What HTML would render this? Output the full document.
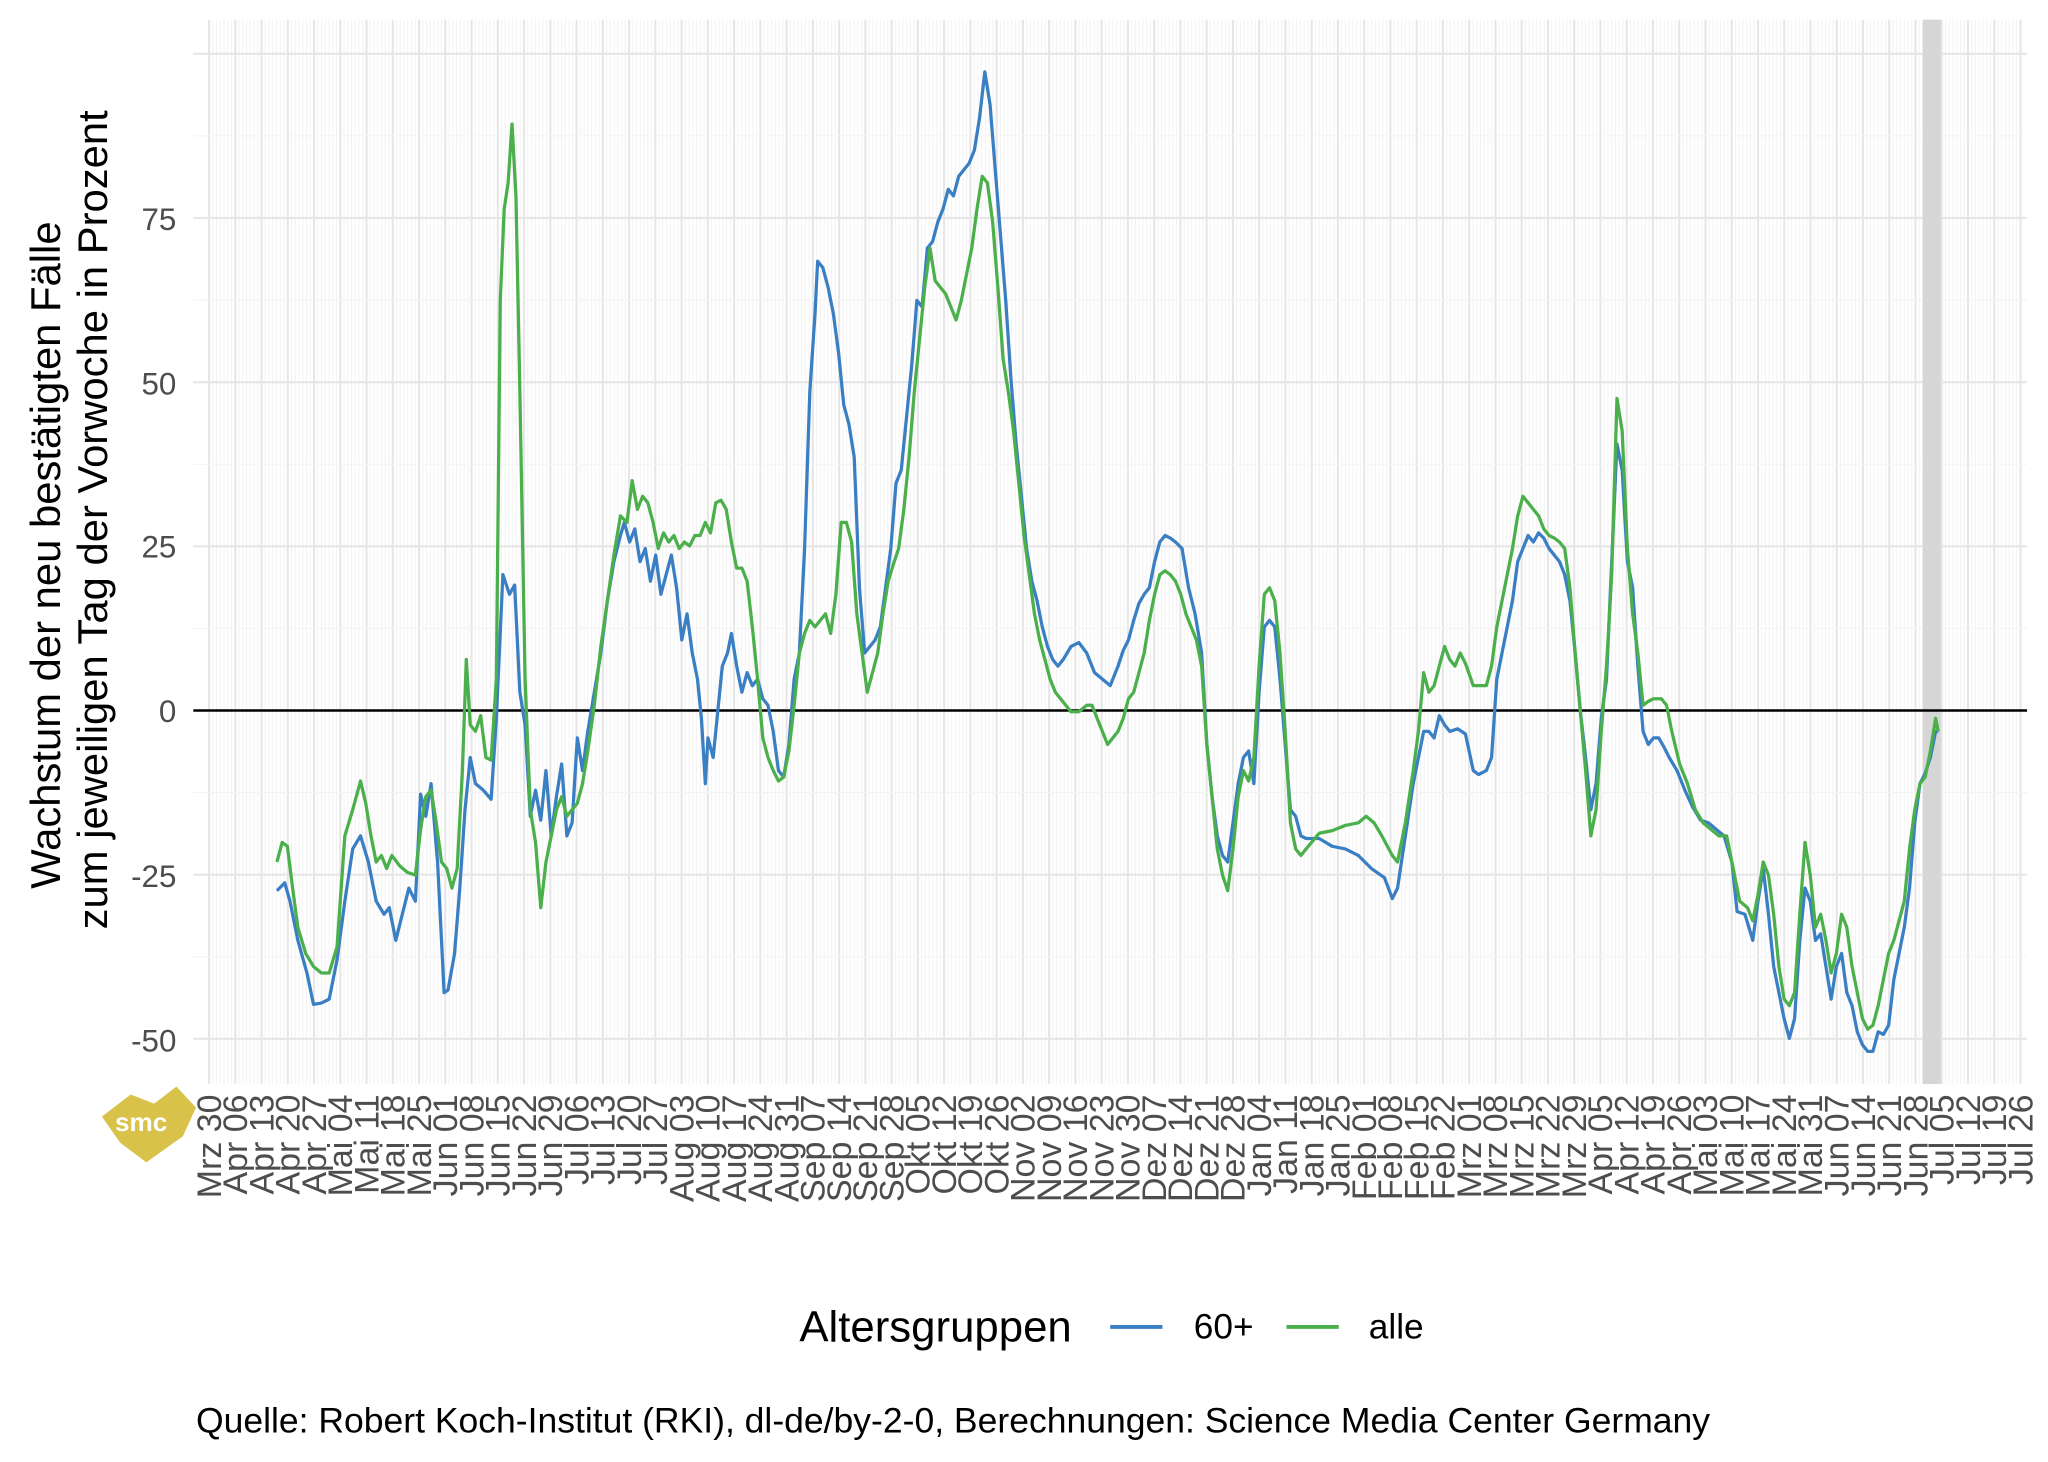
<!DOCTYPE html>
<html><head><meta charset="utf-8"><style>html,body{margin:0;padding:0;background:#fff}svg{display:block}</style></head>
<body>
<svg id="s" width="2048" height="1462" viewBox="0 0 1568 1119.4" xmlns="http://www.w3.org/2000/svg" font-family="Liberation Sans, sans-serif">
<rect width="1568" height="1120" fill="#fff"/>
<g id="grid"></g>
<rect x="1472" y="15" width="14" height="815" fill="#d6d6d6"/>
<line x1="148" x2="1552" y1="544" y2="544" stroke="#000" stroke-width="2"/>
<g id="series"></g>
<g id="labels" font-size="26" fill="#4d4d4d"></g>
<g font-size="24" fill="#4d4d4d" text-anchor="end">
<text x="135" y="176">75</text><text x="135" y="302">50</text><text x="135" y="427">25</text><text x="135" y="553">0</text><text x="135" y="679">-25</text><text x="135" y="805">-50</text>
</g>
<g font-size="32" fill="#000" text-anchor="middle">
<text transform="translate(46,425) rotate(-90)">Wachstum der neu bestätigten Fälle</text>
<text transform="translate(82,398) rotate(-90)">zum jeweiligen Tag der Vorwoche in Prozent</text>
</g>
<polygon points="78,855 100,838 118,845 135,832 150,848 140,870 112,890 92,875" fill="#d8c24a"/>
<text x="88" y="866" font-size="20" fill="#fff" font-weight="bold">smc</text>
<text x="612" y="1027" font-size="33.5">Altersgruppen</text>
<line x1="850" x2="890" y1="1016" y2="1016" stroke="#3a7fc4" stroke-width="3"/>
<text x="914" y="1025" font-size="27">60+</text>
<line x1="985" x2="1025" y1="1016" y2="1016" stroke="#4bb04b" stroke-width="3"/>
<text x="1048" y="1025" font-size="27">alle</text>
<text x="150" y="1097" font-size="27.2">Quelle: Robert Koch-Institut (RKI), dl-de/by-2-0, Berechnungen: Science Media Center Germany</text>
</svg>
<script>
var NS="http://www.w3.org/2000/svg";
function el(t,a,p){var e=document.createElementNS(NS,t);for(var k in a)e.setAttribute(k,a[k]);p.appendChild(e);return e;}
var g=document.getElementById('grid');
var x0=160,dx=(1547-160)/69;
for(var i=0;i<=69*7;i++){var x=x0+i*dx/7;el('line',{x1:x,x2:x,y1:15,y2:830,stroke:i%7==0?'#e6e6e6':'#f3f3f3','stroke-width':i%7==0?1.6:0.8},g);}
for(var v=-62.5;v<=100;v+=12.5){var y=544-v*5.028;if(y<15||y>830)continue;el('line',{x1:148,x2:1552,y1:y,y2:y,stroke:(v%25==0)?'#e6e6e6':'#f3f3f3','stroke-width':(v%25==0)?1.6:0.8},g);}
var M=['Jan','Feb','Mrz','Apr','Mai','Jun','Jul','Aug','Sep','Okt','Nov','Dez'];
var L=document.getElementById('labels');var d=new Date(2020,2,30,12);
for(var i=0;i<70;i++){var x=x0+i*dx;var dd=('0'+d.getDate()).slice(-2);var t=el('text',{transform:'translate('+(x+9)+',838) rotate(-90)','text-anchor':'end'},L);t.textContent=M[d.getMonth()]+' '+dd;d.setDate(d.getDate()+7);}
var blue=[212,682,218,676,222,690,228,720,235,745,240,769,246,768,252,765,258,735,264,690,270,650,276,640,282,660,288,690,294,700,298,695,303,720,308,700,313,680,318,690,322,608,326,625,330,600,335,660,340,760,343,758,348,730,352,680,356,620,360,580,364,600,370,605,376,612,380,550,385,440,390,455,394,448,398,530,402,555,406,625,410,605,414,628,418,590,422,640,426,610,430,585,434,640,438,630,442,565,446,590,450,560,455,530,460,500,465,460,470,430,475,410,478,400,482,415,486,405,490,430,494,420,498,445,502,425,506,455,510,440,514,425,518,450,522,490,526,470,530,500,534,520,537,550,540,600,542,565,546,580,550,540,553,510,557,500,560,485,564,510,568,530,572,515,576,525,580,520,584,535,588,540,592,560,596,590,600,595,604,570,608,520,612,500,616,420,620,300,624,240,626,200,630,205,634,220,638,240,642,270,646,310,650,325,654,350,658,450,662,500,666,495,670,490,674,480,678,450,682,420,686,370,690,360,694,320,698,280,702,230,706,235,710,190,714,185,718,170,722,160,726,145,730,150,734,135,738,130,742,125,746,115,750,90,754,55,758,80,762,130,766,180,770,230,774,290,778,340,782,380,786,420,790,445,794,460,798,480,802,495,806,505,810,510,814,505,820,495,826,492,832,500,838,515,844,520,850,525,856,510,860,498,864,490,868,475,872,462,876,455,880,450,884,430,888,415,892,410,896,412,900,415,905,420,910,450,915,470,920,500,924,570,928,610,932,640,936,655,940,660,944,630,948,600,952,580,956,575,960,600,964,530,968,480,972,475,976,480,980,520,984,570,988,620,992,625,996,640,1000,642,1010,642,1020,648,1030,650,1040,655,1050,665,1060,672,1066,688,1070,680,1076,640,1082,600,1086,580,1090,560,1094,560,1098,565,1102,548,1106,555,1110,560,1116,558,1122,562,1128,590,1132,593,1138,590,1142,580,1146,520,1150,500,1154,480,1158,460,1162,430,1166,420,1170,410,1174,415,1178,408,1182,412,1186,420,1190,425,1194,430,1198,440,1202,460,1206,500,1210,545,1214,580,1218,620,1222,600,1226,550,1230,520,1234,430,1238,340,1242,360,1246,430,1250,450,1254,510,1258,560,1262,570,1266,565,1270,565,1274,572,1278,580,1284,590,1290,605,1296,618,1302,628,1308,630,1314,635,1320,640,1326,660,1330,698,1336,700,1342,720,1346,690,1350,665,1354,700,1358,740,1362,760,1366,780,1370,795,1374,780,1378,720,1382,680,1386,690,1390,720,1394,715,1398,740,1402,765,1406,740,1410,730,1414,760,1418,770,1422,790,1426,800,1430,805,1434,805,1438,790,1442,792,1446,785,1450,750,1454,730,1458,710,1462,680,1466,630,1470,600,1474,592,1478,580,1482,560,1484,560];
var green=[212,660,216,645,220,648,224,680,228,710,234,730,240,740,246,745,252,745,258,725,264,640,270,620,276,598,280,615,284,640,288,660,292,655,296,665,300,655,306,663,312,668,318,670,322,635,326,610,330,605,334,630,338,660,342,665,346,680,350,665,354,590,357,505,360,555,364,560,368,548,372,580,376,582,380,520,383,230,386,160,389,140,392,95,395,150,398,300,402,520,406,620,410,645,414,695,418,660,422,640,426,620,430,610,434,625,438,620,442,615,446,600,450,575,455,540,460,495,465,460,470,425,475,395,480,400,484,368,488,390,492,380,496,385,500,400,504,420,508,408,512,415,516,410,520,420,524,415,528,418,532,410,536,410,540,400,544,408,548,385,552,383,556,390,560,415,564,435,568,435,572,445,576,480,580,520,584,565,588,580,592,590,596,598,600,595,604,575,608,540,612,500,616,485,620,475,624,480,628,475,632,470,636,485,640,455,644,400,648,400,652,415,656,470,660,500,664,530,668,515,672,500,676,470,680,445,684,432,688,420,692,390,696,350,700,300,704,260,708,220,712,190,716,215,720,220,724,225,728,235,732,245,736,230,740,210,744,190,748,160,752,135,756,140,760,170,764,220,768,275,772,300,776,330,780,370,784,410,788,440,792,470,796,490,800,505,804,520,808,530,812,535,816,540,820,545,826,545,832,540,836,540,840,550,844,560,848,570,852,565,856,560,860,550,864,535,868,530,872,515,876,500,880,475,884,455,888,440,892,437,896,440,900,445,904,455,908,470,912,480,916,490,920,510,924,570,928,610,932,650,936,670,940,682,944,650,948,610,952,590,956,598,960,580,964,510,968,455,972,450,976,460,980,500,984,560,988,630,992,650,996,655,1000,650,1010,638,1020,636,1030,632,1040,630,1046,625,1052,630,1058,640,1066,655,1070,660,1076,630,1082,590,1086,560,1090,515,1094,530,1098,525,1102,510,1106,495,1110,505,1114,510,1118,500,1122,508,1128,525,1132,525,1138,525,1142,510,1146,480,1150,460,1154,440,1158,420,1162,395,1166,380,1170,385,1174,390,1178,395,1182,405,1186,410,1190,412,1194,415,1198,420,1202,450,1206,500,1210,545,1214,590,1218,640,1222,620,1226,560,1230,510,1234,440,1238,305,1242,330,1246,420,1250,470,1254,500,1258,540,1262,537,1266,535,1272,535,1276,540,1280,560,1286,585,1292,600,1298,620,1304,630,1310,635,1316,640,1322,640,1328,670,1332,690,1338,695,1342,705,1346,685,1350,660,1354,670,1358,700,1362,740,1366,765,1370,770,1374,760,1378,700,1382,645,1386,670,1390,710,1394,700,1398,720,1402,745,1406,730,1410,700,1414,710,1418,740,1422,760,1426,780,1430,788,1434,785,1438,770,1442,750,1446,730,1450,720,1454,705,1458,690,1462,650,1466,620,1470,600,1474,595,1478,575,1482,550,1484,560];
var S=document.getElementById('series');
function pl(a,c){var p=[];for(var i=0;i<a.length;i+=2)p.push(a[i]+','+a[i+1]);el('polyline',{points:p.join(' '),fill:'none',stroke:c,'stroke-width':2.5,'stroke-linejoin':'round'},S);}
pl(blue,'#3a7fc4');pl(green,'#4bb04b');
</script>
</body></html>
